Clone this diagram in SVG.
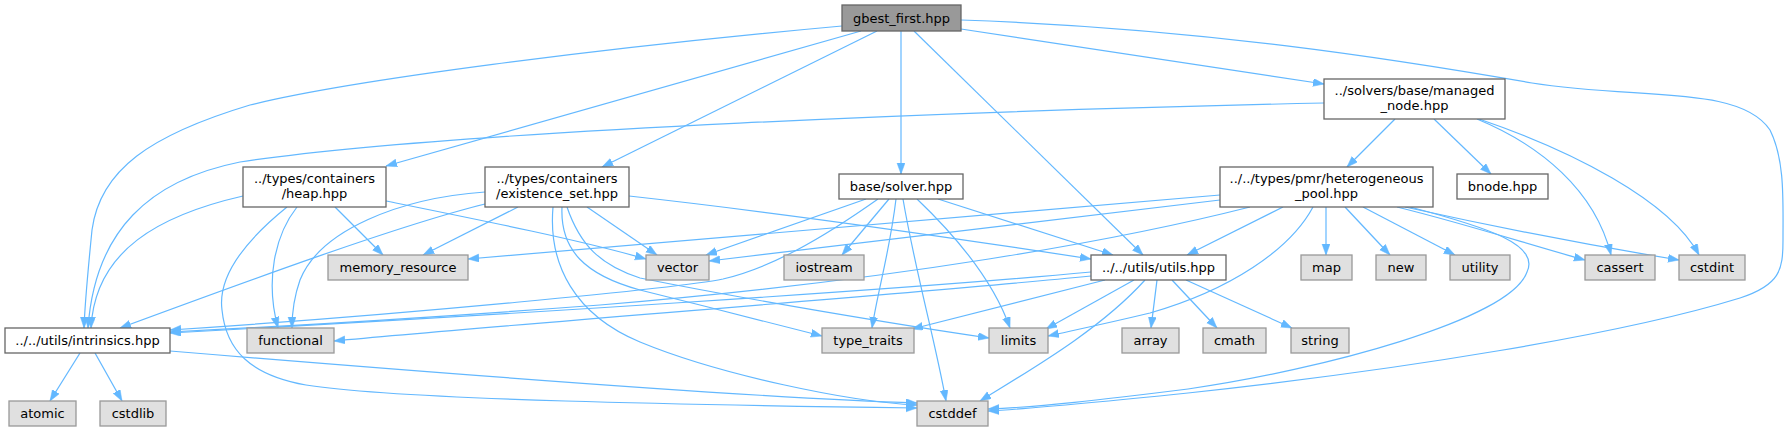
<svg xmlns="http://www.w3.org/2000/svg" width="1788" height="432" viewBox="0 0 1788 432">
<style>
.n rect{fill:#ffffff;stroke:#666666;stroke-width:1.3}
.g rect{fill:#999999;stroke:#666666;stroke-width:1.3}
.s rect{fill:#e0e0e0;stroke:#999999;stroke-width:1.3}
text{font-family:"DejaVu Sans","Liberation Sans",sans-serif;font-size:13px;fill:#000;text-anchor:middle}
#edges path{fill:none;stroke:#63b8ff;stroke-width:1.2;marker-end:url(#arr)}
</style>
<defs>
<marker id="arr" markerUnits="userSpaceOnUse" markerWidth="12" markerHeight="9" refX="11" refY="4" orient="auto">
<path d="M0,0 L11,4 L0,8 z" fill="#63b8ff" stroke="#63b8ff" stroke-width="0.5"/>
</marker>
</defs>
<rect width="1788" height="432" fill="#ffffff"/>
<g id="edges">
<path d="M842,26 C600,48 350,80 250,105 C150,135 100,170 92,230 C88,270 85,300 84,328"/>
<path d="M1324,103 C1000,110 450,130 240,162 C150,180 95,230 88,328"/>
<path d="M243,196 C160,215 95,250 91,328"/>
<path d="M861,31 L386,166"/>
<path d="M877,31 L602,167"/>
<path d="M901,31 L901,174"/>
<path d="M914,31 L1143,255"/>
<path d="M961,29 L1324,84"/>
<path d="M961,20 C1200,28 1400,60 1532,83 C1640,100 1740,85 1770,130 C1785,160 1783,200 1783,240 C1783,270 1780,285 1740,298 C1620,335 1400,370 1188,393 C1100,402 1030,409 988,411"/>
<path d="M1395,119 L1347,167"/>
<path d="M1434,119 L1491,174"/>
<path d="M1477,119 C1540,145 1595,190 1611,255"/>
<path d="M1479,119 C1570,150 1670,200 1699,255"/>
<path d="M1220,195 L468,259"/>
<path d="M1220,200 L709,261"/>
<path d="M1250,207 C1120,240 900,280 600,305 C400,320 250,328 170,332"/>
<path d="M1283,207 L1187,255"/>
<path d="M1313,207 C1290,250 1230,290 1150,313 C1100,325 1070,331 1048,336"/>
<path d="M1326,207 L1326,255"/>
<path d="M1345,207 L1390,255"/>
<path d="M1363,207 L1455,255"/>
<path d="M1397,207 C1470,225 1530,245 1585,260"/>
<path d="M1405,207 C1500,228 1600,247 1679,260"/>
<path d="M1410,207 C1490,228 1540,245 1527,272 C1510,320 1320,370 1188,389 C1100,400 1040,407 988,409"/>
<path d="M335,207 L383,255"/>
<path d="M297,207 C275,235 265,280 278,328"/>
<path d="M386,201 C480,220 580,240 646,259"/>
<path d="M287,207 C240,245 218,280 222,310 C226,350 250,375 306,385 C400,400 700,405 917,408"/>
<path d="M485,204 C400,225 250,280 120,328"/>
<path d="M485,192 C400,198 320,230 300,280 C293,300 292,315 292,328"/>
<path d="M518,207 L423,255"/>
<path d="M587,207 L657,255"/>
<path d="M629,196 C800,215 1000,245 1091,259"/>
<path d="M562,207 C560,250 585,275 640,290 C700,305 780,325 822,336"/>
<path d="M567,207 C580,245 600,265 640,278 C750,300 900,325 989,338"/>
<path d="M553,207 C548,265 575,315 640,342 C720,375 850,402 917,405"/>
<path d="M866,199 L706,255"/>
<path d="M889,199 L842,255"/>
<path d="M896,199 C890,250 878,290 872,328"/>
<path d="M903,199 C915,270 935,340 946,401"/>
<path d="M917,199 C960,240 995,285 1010,328"/>
<path d="M938,199 L1113,255"/>
<path d="M878,199 C820,240 770,268 723,279 C680,288 400,315 170,330"/>
<path d="M1091,272 C900,290 500,315 170,333"/>
<path d="M1091,276 C900,295 500,325 334,341"/>
<path d="M1105,280 L912,329"/>
<path d="M1134,280 L1046,329"/>
<path d="M1145,280 C1100,330 1030,370 980,401"/>
<path d="M1157,280 L1151,328"/>
<path d="M1172,280 L1217,328"/>
<path d="M1186,280 L1292,328"/>
<path d="M80,353 L50,401"/>
<path d="M95,353 L122,401"/>
<path d="M170,351 C400,370 750,398 917,403"/>
</g>
<g id="gbest" class="g"><rect x="842" y="5" width="119" height="26"/><text x="901.5" y="22.5">gbest_first.hpp</text></g>
<g id="solver" class="n"><rect x="839" y="174" width="124" height="25"/><text x="901" y="191">base/solver.hpp</text></g>
<g id="heap" class="n"><rect x="243" y="167" width="143" height="40"/><text x="314.5" y="183">../types/containers</text><text x="314.5" y="198">/heap.hpp</text></g>
<g id="existence_set" class="n"><rect x="485" y="167" width="144" height="40"/><text x="557" y="183">../types/containers</text><text x="557" y="198">/existence_set.hpp</text></g>
<g id="managed_node" class="n"><rect x="1324" y="79" width="181" height="40"/><text x="1414.5" y="95">../solvers/base/managed</text><text x="1414.5" y="110">_node.hpp</text></g>
<g id="heterogeneous_pool" class="n"><rect x="1220" y="167" width="213" height="40"/><text x="1326.5" y="183">../../types/pmr/heterogeneous</text><text x="1326.5" y="198">_pool.hpp</text></g>
<g id="bnode" class="n"><rect x="1457" y="174" width="91" height="25"/><text x="1502.5" y="191">bnode.hpp</text></g>
<g id="intrinsics" class="n"><rect x="5" y="328" width="165" height="25"/><text x="87.5" y="345">../../utils/intrinsics.hpp</text></g>
<g id="utils" class="n"><rect x="1091" y="255" width="135" height="25"/><text x="1158.5" y="272">../../utils/utils.hpp</text></g>
<g id="memory_resource" class="s"><rect x="328" y="255" width="140" height="25"/><text x="398" y="272">memory_resource</text></g>
<g id="functional" class="s"><rect x="247" y="328" width="87" height="25"/><text x="290.5" y="345">functional</text></g>
<g id="atomic" class="s"><rect x="9" y="401" width="67" height="25"/><text x="42.5" y="418">atomic</text></g>
<g id="cstdlib" class="s"><rect x="100" y="401" width="66" height="25"/><text x="133" y="418">cstdlib</text></g>
<g id="vector" class="s"><rect x="646" y="255" width="63" height="25"/><text x="677.5" y="272">vector</text></g>
<g id="iostream" class="s"><rect x="784" y="255" width="80" height="25"/><text x="824" y="272">iostream</text></g>
<g id="type_traits" class="s"><rect x="822" y="328" width="92" height="25"/><text x="868" y="345">type_traits</text></g>
<g id="limits" class="s"><rect x="989" y="328" width="59" height="25"/><text x="1018.5" y="345">limits</text></g>
<g id="array" class="s"><rect x="1122" y="328" width="57" height="25"/><text x="1150.5" y="345">array</text></g>
<g id="cstddef" class="s"><rect x="917" y="401" width="71" height="25"/><text x="952.5" y="418">cstddef</text></g>
<g id="cmath" class="s"><rect x="1203" y="328" width="63" height="25"/><text x="1234.5" y="345">cmath</text></g>
<g id="string" class="s"><rect x="1291" y="328" width="58" height="25"/><text x="1320" y="345">string</text></g>
<g id="map" class="s"><rect x="1301" y="255" width="51" height="25"/><text x="1326.5" y="272">map</text></g>
<g id="new" class="s"><rect x="1376" y="255" width="50" height="25"/><text x="1401" y="272">new</text></g>
<g id="utility" class="s"><rect x="1450" y="255" width="60" height="25"/><text x="1480" y="272">utility</text></g>
<g id="cassert" class="s"><rect x="1585" y="255" width="70" height="25"/><text x="1620" y="272">cassert</text></g>
<g id="cstdint" class="s"><rect x="1679" y="255" width="66" height="25"/><text x="1712" y="272">cstdint</text></g>
</svg>
